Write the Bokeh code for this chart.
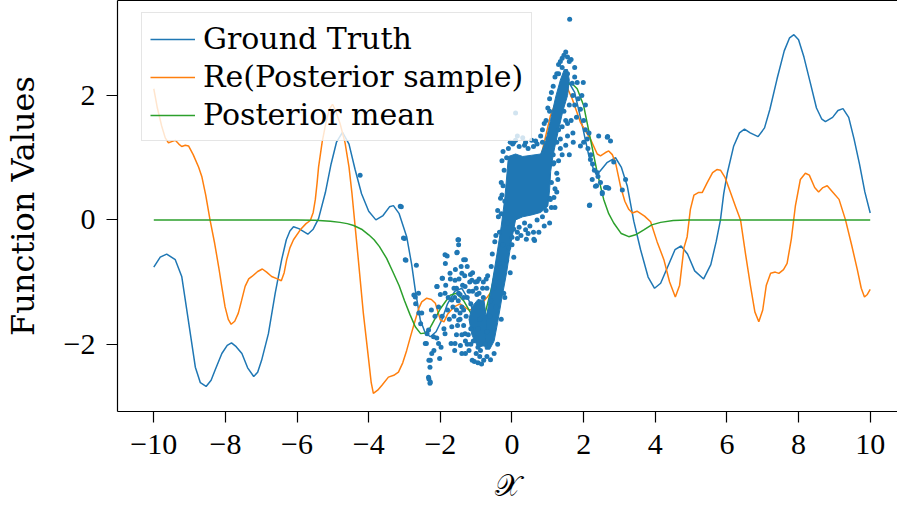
from bokeh.plotting import figure
from bokeh.models import FixedTicker, LinearAxis, Range1d, Legend, LegendItem
from bokeh.embed import file_html
from bokeh.resources import INLINE

# ---------------- data ----------------
gt_x = [-10.0, -9.82, -9.64, -9.40, -9.22, -9.12, -8.98, -8.84, -8.70, -8.54, -8.40, -8.29, -8.10,
        -7.95, -7.83, -7.70, -7.54, -7.38, -7.21, -7.10, -6.99, -6.80, -6.61, -6.43, -6.30, -6.20,
        -6.10, -5.95, -5.70, -5.55, -5.40, -5.21, -5.05, -4.90, -4.73, -4.55, -4.38, -4.20, -4.00,
        -3.80, -3.60, -3.42, -3.31, -3.15, -2.94, -2.80, -2.70, -2.56, -2.42, -2.28, -2.12, -1.96,
        -1.80, -1.60, -1.40, -1.20, -1.00, -0.80, -0.60, -0.40, -0.20, 0.00, 0.20, 0.40, 0.60,
        0.80, 1.00, 1.20, 1.40, 1.58, 1.75, 1.95, 2.15, 2.30, 2.45, 2.65, 2.89, 3.05, 3.22, 3.40,
        3.59, 3.80, 3.98, 4.15, 4.35, 4.55, 4.72, 4.90, 5.10, 5.35, 5.55, 5.70, 5.82, 5.91, 6.01,
        6.19, 6.35, 6.49, 6.65, 6.87, 7.05, 7.20, 7.40, 7.60, 7.75, 7.87, 8.00, 8.15, 8.33, 8.50,
        8.65, 8.75, 8.95, 9.10, 9.24, 9.40, 9.55, 9.70, 9.85, 10.0]
gt_y = [-0.76, -0.60, -0.55, -0.64, -0.91, -1.29, -1.83, -2.37, -2.62, -2.68, -2.58, -2.42, -2.15,
        -2.02, -1.98, -2.04, -2.15, -2.38, -2.52, -2.45, -2.26, -1.83, -1.18, -0.64, -0.32, -0.18,
        -0.11, -0.14, -0.23, -0.15, 0.02, 0.44, 0.90, 1.25, 1.41, 1.22, 0.81, 0.42, 0.14,
        0.00, 0.07, 0.21, 0.23, 0.10, -0.27, -0.72, -1.13, -1.61, -1.82, -1.88, -1.80, -1.61,
        -1.35, -1.15, -1.10, -1.30, -1.58, -1.70, -1.35, -0.75, -0.10, 0.40, 0.70, 0.80, 0.75,
        0.85, 1.10, 1.55, 2.00, 2.22, 2.05, 1.55, 1.02, 0.78, 0.78, 0.92, 1.00, 0.85, 0.54, -0.02,
        -0.48, -0.92, -1.10, -1.02, -0.75, -0.48, -0.42, -0.55, -0.82, -0.95, -0.72, -0.35, 0.00, 0.42, 0.75,
        1.19, 1.40, 1.46, 1.40, 1.34, 1.48, 1.78, 2.27, 2.72, 2.93, 2.98, 2.90, 2.62, 2.20, 1.80,
        1.62, 1.58, 1.65, 1.76, 1.79, 1.65, 1.30, 0.90, 0.45, 0.11]

post_x = [-10.0, -9.90, -9.78, -9.68, -9.59, -9.50, -9.40, -9.30, -9.22, -9.12, -9.03, -8.90, -8.75,
          -8.66, -8.55, -8.43, -8.30, -8.19, -8.10, -8.01, -7.92, -7.84, -7.74, -7.64, -7.55, -7.45,
          -7.35, -7.26, -7.10, -6.97, -6.85, -6.71, -6.55, -6.44, -6.36, -6.29, -6.20, -6.10, -5.91,
          -5.75, -5.63, -5.55, -5.49, -5.44, -5.40, -5.30, -5.20, -5.10, -5.01, -4.92, -4.80, -4.66,
          -4.55, -4.47, -4.38, -4.29, -4.15, -4.00, -3.93, -3.87, -3.75, -3.63, -3.45, -3.30, -3.17,
          -3.05, -2.94, -2.82, -2.70, -2.60, -2.52, -2.38, -2.25, -2.14, -2.00, -1.90, -1.80, -1.62,
          -1.45, -1.20, -0.97, -0.70, -0.41, -0.20, 0.00, 0.20, 0.40, 0.60, 0.80, 1.07, 1.30, 1.50,
          1.68, 1.91, 2.19, 2.38, 2.47, 2.60, 2.70, 2.80, 2.89, 3.03, 3.15, 3.26, 3.36, 3.49, 3.70,
          3.87, 4.05, 4.24, 4.40, 4.56, 4.68, 4.80, 4.89, 4.98, 5.08, 5.20, 5.31, 5.45, 5.60, 5.72,
          5.82, 5.95, 6.10, 6.25, 6.38, 6.52, 6.66, 6.78, 6.89, 7.00, 7.10, 7.22, 7.35, 7.45, 7.58,
          7.68, 7.80, 7.91, 8.05, 8.19, 8.30, 8.45, 8.56, 8.68, 8.80, 8.95, 9.13, 9.31, 9.48, 9.64,
          9.75, 9.84, 9.92, 10.0]
post_y = [2.11, 1.80, 1.51, 1.32, 1.24, 1.26, 1.28, 1.22, 1.18, 1.20, 1.19, 1.05, 0.85,
          0.70, 0.40, 0.00, -0.38, -0.75, -1.08, -1.40, -1.60, -1.68, -1.63, -1.50, -1.30, -1.07,
          -0.95, -0.91, -0.83, -0.79, -0.84, -0.91, -0.95, -0.98, -0.85, -0.64, -0.45, -0.32, -0.16,
          -0.06, -0.01, 0.12, 0.33, 0.60, 0.85, 1.25, 1.55, 1.78, 1.86, 1.75, 1.55, 1.24,
          0.85, 0.44, -0.10, -0.64, -1.50, -2.26, -2.62, -2.79, -2.74, -2.66, -2.53, -2.50, -2.45,
          -2.30, -2.10, -1.85, -1.61, -1.42, -1.32, -1.26, -1.28, -1.34, -1.61, -1.64, -1.52, -1.40,
          -1.35, -1.45, -1.42, -1.25, -1.02, -0.40, 0.30, 0.60, 0.70, 0.80, 1.00, 1.67, 2.00, 2.18,
          1.95, 1.57, 1.30, 1.06, 1.03, 1.08, 1.11, 1.05, 0.92, 0.54, 0.30, 0.17, 0.11, 0.14, 0.06,
          -0.03, -0.35, -0.64, -1.00, -1.24, -1.05, -0.45, -0.27, 0.17, 0.40, 0.44, 0.44, 0.60, 0.76,
          0.81, 0.80, 0.68, 0.44, 0.20, 0.00, -0.55, -1.07, -1.48, -1.64, -1.45, -1.05, -0.86, -0.84,
          -0.86, -0.80, -0.70, -0.30, 0.22, 0.65, 0.75, 0.72, 0.52, 0.45, 0.52, 0.55, 0.45, 0.33,
          0.00, -0.40, -0.80, -1.10, -1.24, -1.20, -1.12]

mean_x = [-10.0, -6.0, -5.5, -5.07, -4.80, -4.60, -4.42, -4.20, -4.00, -3.85, -3.70, -3.50, -3.33,
          -3.15, -3.00, -2.85, -2.70, -2.55, -2.42, -2.28, -2.14, -2.00, -1.85, -1.72, -1.55, -1.35,
          -1.15, -0.95, -0.75, -0.55, -0.35, -0.15, 0.05, 0.30, 0.60, 0.90, 1.10, 1.30, 1.45, 1.59,
          1.70, 1.82, 2.00, 2.19, 2.38, 2.56, 2.70, 2.84, 3.05, 3.26, 3.45, 3.68, 3.90, 4.15, 4.50,
          4.89, 10.0]
mean_y = [0.0, 0.0, -0.005, -0.02, -0.04, -0.06, -0.09, -0.15, -0.24, -0.32, -0.43, -0.62, -0.83,
          -1.06, -1.30, -1.52, -1.72, -1.83, -1.82, -1.73, -1.58, -1.43, -1.31, -1.21, -1.18, -1.30,
          -1.50, -1.62, -1.50, -1.05, -0.45, 0.10, 0.50, 0.72, 0.80, 0.95, 1.30, 1.80, 2.10, 2.19,
          2.18, 2.11, 1.84, 1.30, 0.76, 0.33, 0.10, -0.05, -0.22, -0.27, -0.24, -0.16, -0.08, -0.04,
          -0.01, 0.0, 0.0]

core_x = [-0.80, -0.68, -0.55, -0.42, -0.30, -0.20, -0.14, -0.10, 0.10, 0.30, 0.55, 0.80, 0.95,
          1.08, 1.22, 1.35, 1.46, 1.55, 1.60, 1.55, 1.42, 1.28, 1.15, 1.08, 1.05, 1.00, 0.80, 0.55,
          0.30, 0.10, -0.02, -0.15, -0.28, -0.40, -0.50, -0.62, -0.74]
core_y = [-1.90, -1.45, -1.00, -0.55, -0.10, 0.35, 0.75, 1.02, 1.06, 1.02, 1.04, 1.06, 1.28,
          1.62, 1.98, 2.25, 2.42, 2.42, 2.25, 2.00, 1.75, 1.40, 1.05, 0.78, 0.48, 0.22, 0.12, 0.08,
          0.05, 0.00, -0.35, -0.85, -1.25, -1.65, -1.95, -2.08, -2.08]
left_core_x = [-1.12, -0.95, -0.78, -0.70, -0.76, -0.95, -1.12, -1.20]
left_core_y = [-1.40, -1.28, -1.30, -1.65, -2.02, -2.05, -1.85, -1.60]

obs_x = [-3.09, -3.00, -2.96, -2.67, -2.74, -2.69, -2.60, -2.55, -2.37, -2.39, -2.32, -2.29, -2.32,
         -2.29, -2.02, -2.18, -2.09, -1.81, -1.86, -1.53, -1.49, -1.30, -1.16, -0.97, -1.95, -1.70,
         -1.44, -1.30, -1.11, -0.95, -0.79, 0.40, 0.63, -0.09, -0.37, 1.17, 2.17, 2.36, 1.61,
         1.82, 1.91, 2.10, 2.19, 2.38, 2.47, 2.66, 2.42, 2.16, 3.08, 2.84, 1.71, 1.91, 1.99, 2.05,
         2.67, 2.75, 2.24, 2.33, 2.52, 2.66, 2.52, 2.61, 2.70, 3.17,
         -1.87, -1.54, -1.49, -1.35, -1.94, -2.10, -1.73, -1.59, -1.40, -1.87, -1.68, -1.49, -1.31,
         -1.12, -2.33, -2.19, -2.05, -2.24, -1.87, -1.68, -1.49, -1.31, -1.59, -2.61, -2.70, -2.52,
         -2.42, -2.28, -2.33, -2.28, -3.03, -2.98, -4.24, -3.12, -1.51, 0.10,
         -0.05, 0.02, 0.10, 0.20, 0.35, 0.45, 0.60, 0.70, 0.85, 0.95,
         -0.25, -0.22, -0.20, -0.15, -0.30, -0.35,
         0.05, 0.20, 0.35, 0.50, 0.70, 0.85, 0.95, 1.10, 0.25, 0.60,
         1.10, 1.15, 1.20, 1.25, 1.05,
         0.80, 0.90, 1.00, 1.10, 1.20, 1.30, 1.40, 0.85, 1.05, 1.25,
         1.45, 1.55, 1.65, 1.75, 1.50, 1.60,
         1.45, 1.55, 1.35, 1.50, 1.65, 1.75, 1.85, 1.80, 1.70, 1.40, 1.30, 1.60,
         1.95, 2.00, 2.05, 2.12, 2.20, 2.25, 2.30, 2.40, 2.15, 2.00,
         -1.00, -0.90, -0.80, -0.68, -0.55, -0.45, -0.38, -0.28, -0.60, -0.95,
         -0.40, -0.30, -0.20, -0.05, 0.05, 0.15, -0.50, -0.60,
         -1.50, -1.45, -1.40, -1.25, -1.20, -1.00, -1.55, -1.20, -1.00, -0.90, -1.35, -1.15, -0.80,
         0.05, 0.38, 0.66, 1.17, 1.07, 0.38, 0.61, -0.32, -0.23,
         -0.30, -0.28, -0.25, -0.32, -0.40, 1.15, 1.20, 1.25, 1.28, 1.05, 0.90, 0.75, 0.15, 0.00,
         0.45, 0.30, 0.55, 0.15, -0.10, 1.00,
         -0.70, -0.62, -0.50, -0.35, -0.25, -0.12, -0.95, -0.85, -0.70, -0.45, -0.35, -0.15, 0.00,
         -0.58, -0.48,
         -1.45, -1.40, -1.35, -1.30, -1.15, -0.95, -1.25, -1.10, -0.92, -1.55, -1.60, -1.62, -1.05,
         -0.85, -0.70,
         0.95, 1.05, 1.15, 1.30, 1.35, 1.40, 1.55, 1.68, 1.75, 1.70, 1.60, 1.50, 1.40, 1.30, 1.25,
         1.35, 1.55,
         -2.05, -2.00, -1.95, -1.90, -1.85, -1.80, -1.78, -1.75, -1.72, -1.65, -1.62, -1.58, -1.55,
         -1.52, -1.48, -1.45, -1.42, -1.38, -1.35, -1.32, -1.28, -1.25, -1.22, -1.18, -1.15, -1.10,
         -1.08, -1.02, -0.98, -0.92, -0.88, -0.82, -0.75, -0.72, -2.15, -2.25, -2.10, -1.98, -1.60,
         -1.40]
obs_y = [0.21, -0.30, -0.65, -0.73, -1.21, -1.35, -1.50, -1.67, -1.83, -1.99, -2.26, -2.37, -2.56,
         -2.63, -2.23, -2.10, -1.07, -0.58, -0.70, -0.52, -0.32, -0.64, -0.88, -0.99, -0.94, -1.99,
         -2.02, -2.15, -2.26, -2.30, -2.26, -0.31, -0.33, -0.45, -0.72, 0.36, 0.24, 0.55, 3.23,
         2.21, 1.78, 1.30, 0.97, 0.76, 0.60, 1.33, 1.35, 0.23, 0.48, 0.93, 1.25, 1.19, 2.21, 1.85,
         1.34, 1.27, 0.65, 0.54, 0.44, 0.52, 0.42, 0.52, 0.51, 0.65,
         -0.56, -0.53, -0.40, -0.64, -0.94, -1.07, -0.86, -0.97, -0.86, -1.18, -1.29, -1.18, -1.07,
         -0.97, -1.77, -1.88, -1.99, -2.15, -1.83, -1.72, -1.61, -1.83, -1.99, -1.18, -1.24, -1.50,
         -1.99, -2.26, -2.53, -2.61, -0.29, -0.64, 0.72, 0.22, -0.32, 1.72,
         1.25, 1.22, 1.28, 1.18, 1.20, 1.15, 1.18, 1.22, 1.25, 1.18,
         0.55, 0.80, 0.30, 1.00, 0.10, -0.20,
         -0.15, -0.12, -0.05, -0.10, 0.00, 0.05, 0.15, 0.20, -0.25, -0.20,
         0.60, 0.90, 0.50, 0.75, 0.35,
         1.35, 1.55, 1.80, 2.05, 2.30, 2.50, 2.60, 1.45, 1.95, 2.35,
         2.65, 2.62, 2.58, 2.45, 2.70, 2.55,
         1.75, 1.55, 1.30, 1.20, 1.60, 1.85, 1.95, 1.65, 1.40, 1.05, 0.95, 1.05,
         2.00, 1.60, 1.45, 1.15, 1.05, 0.90, 0.80, 0.70, 1.40, 1.25,
         -1.90, -1.60, -1.25, -0.90, -0.55, -0.25, 0.05, 0.40, -1.30, -1.40,
         -2.00, -1.60, -1.25, -0.85, -0.60, -0.30, -2.15, -2.25,
         -1.30, -1.60, -1.85, -2.00, -1.15, -1.10, -1.10, -2.10, -2.15, -2.20, -1.45, -1.75, -1.00,
         1.25, 1.25, 1.27, 0.92, 0.33, -0.16, -0.31, -0.75, -1.18,
         0.60, 0.95, 1.10, 0.35, 0.15, 1.05, 0.20, 0.45, 0.65, -0.05, -0.10, -0.20, -0.20, -0.28,
         -0.22, 1.32, 1.28, 1.35, 1.15, 1.30,
         -1.80, -1.55, -1.10, -0.70, -0.40, -0.05, -1.75, -1.35, -1.10, -1.40, -1.00, -0.65, -0.40,
         -0.75, -0.35,
         -1.20, -1.40, -1.70, -1.95, -2.00, -2.05, -1.25, -1.15, -1.18, -1.45, -1.25, -1.55, -2.28,
         -2.32, -2.20,
         1.60, 1.75, 2.15, 2.35, 2.55, 2.45, 2.35, 2.20, 2.30, 2.00, 1.85, 1.60, 1.50, 1.45, 1.25,
         1.15, 1.35,
         -1.40, -1.20, -1.55, -1.75, -1.05, -1.45, -1.25, -1.60, -0.95, -1.40, -1.10, -0.80, -1.85,
         -1.70, -0.95, -1.50, -0.75, -1.05, -1.25, -0.90, -1.55, -0.75, -1.85, -1.00, -1.35, -0.85,
         -1.95, -1.00, -1.20, -0.95, -2.10, -1.10, -2.00, -0.95, -1.55, -1.45, -1.90, -2.05, -2.10,
         -2.15]

x_ticks = [-10, -8, -6, -4, -2, 0, 2, 4, 6, 8, 10]
y_ticks = [-2, 0, 2]
labels = ["Ground Truth", "Re(Posterior sample)", "Posterior mean"]

BLUE, ORANGE, GREEN = "#1f77b4", "#ff7f0e", "#2ca02c"
TICK_FONT = "Liberation Serif"
TEXT_FONT = "DejaVu Serif"


def minus(v):
    return ("\u2212" + str(-v)) if v < 0 else str(v)


p = figure(width=897, height=506,
           x_range=Range1d(-11.013, 10.762), y_range=Range1d(-3.083, 3.53),
           output_backend="svg", toolbar_location=None,
           min_border_left=117, min_border_right=0, min_border_top=0, min_border_bottom=95,
           x_axis_label="\U0001D4B3", y_axis_label="Function Values")
p.outline_line_color = None
p.grid.visible = False
p.background_fill_color = "white"
p.border_fill_color = "white"

xax = p.below[0]
yax = p.left[0]

for ax, ticks in ((xax, x_ticks), (yax, y_ticks)):
    ax.ticker = FixedTicker(ticks=ticks)
    ax.major_label_overrides = {t: minus(t) for t in ticks}
    ax.major_label_text_font = TICK_FONT
    ax.major_label_text_font_size = "30px"
    ax.major_label_text_color = "black"
    ax.major_tick_out = 11
    ax.major_tick_in = 0
    ax.minor_tick_line_color = None
    ax.major_tick_line_width = 1.2
    ax.axis_line_width = 1.2
    ax.axis_line_color = "black"
    ax.major_tick_line_color = "black"
    ax.axis_label_text_font = TEXT_FONT
    ax.axis_label_text_font_style = "normal"
    ax.axis_label_text_font_size = "32px"
    ax.axis_label_text_color = "black"

xax.major_label_standoff = 12
xax.axis_label_standoff = 12
xax.axis_label_text_font = TICK_FONT
xax.axis_label_text_font_size = "30px"
yax.major_label_standoff = 11
yax.axis_label_standoff = 19

# top spine
top = LinearAxis(ticker=FixedTicker(ticks=[]), major_label_text_font_size="0px",
                 major_tick_line_color=None, minor_tick_line_color=None,
                 major_tick_out=0, major_tick_in=0,
                 major_label_standoff=0, axis_line_width=1.2, axis_line_color="black")
p.add_layout(top, "above")

r_gt = p.line(gt_x, gt_y, line_color=BLUE, line_width=1.5)
r_post = p.line(post_x, post_y, line_color=ORANGE, line_width=1.5)
r_mean = p.line(mean_x, mean_y, line_color=GREEN, line_width=1.5)

p.patch(core_x, core_y, fill_color=BLUE, line_color=BLUE, line_width=1)
p.patch(left_core_x, left_core_y, fill_color=BLUE, line_color=BLUE, line_width=1)
p.scatter(obs_x, obs_y, size=5, fill_color=BLUE, line_color=None)

legend = Legend(items=[LegendItem(label=labels[0], renderers=[r_gt]),
                       LegendItem(label=labels[1], renderers=[r_post]),
                       LegendItem(label=labels[2], renderers=[r_mean])],
                location=(24, 270), margin=0, padding=8, spacing=3,
                glyph_width=45, glyph_height=34, label_height=34, label_standoff=8,
                label_text_font=TEXT_FONT, label_text_font_size="30px", label_text_color="black",
                background_fill_color="white", background_fill_alpha=0.8,
                border_line_color="#cccccc", border_line_width=1.2)
p.add_layout(legend, "center")

open("out.html", "w").write(file_html(p, INLINE))
